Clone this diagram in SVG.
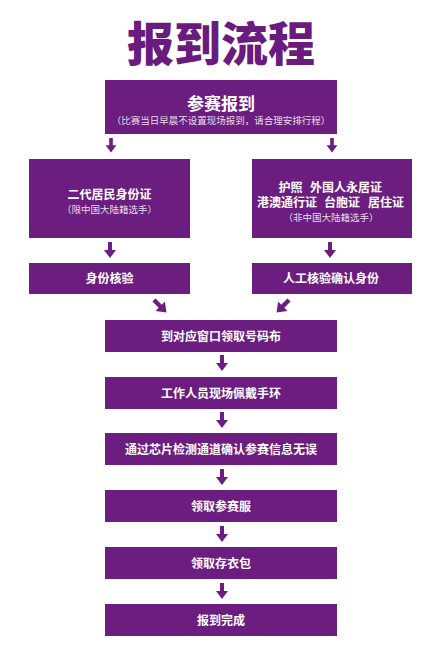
<svg xmlns="http://www.w3.org/2000/svg" width="444" height="651" viewBox="0 0 444 651">
<style>
.box{fill:#6b1e7f}
.t{font-family:"Noto Sans CJK SC","Noto Sans",sans-serif;fill:#ffffff;text-anchor:middle;font-weight:700;font-size:12px}
.big{font-size:17px}
.s{font-family:"Noto Sans CJK SC","Noto Sans",sans-serif;fill:#e6dcea;text-anchor:middle;font-weight:400;font-size:9.5px}
.arr{fill:#6b1e7f}
</style>
<defs>
<path id="a" d="M-2,0 H2 V8 H6 L0,16 L-6,8 H-2 Z"/>
</defs>
<rect width="444" height="651" fill="#ffffff"/>
<text x="221" y="61" font-family="'Noto Sans CJK SC',sans-serif" font-weight="900" font-size="47" fill="#6a1b7e" text-anchor="middle">报到流程</text>

<g id="start">
<rect class="box" x="105" y="80" width="232" height="54"/>
<text class="t big" x="221" y="110">参赛报到</text>
<text class="s" x="221" y="124">（比赛当日早晨不设置现场报到，请合理安排行程）</text>
</g>
<g id="id-card">
<rect class="box" x="29" y="159" width="161" height="79"/>
<text class="t" x="109.5" y="198.5">二代居民身份证</text>
<text class="s" x="109.5" y="212.5">（限中国大陆籍选手）</text>
</g>
<g id="passport">
<rect class="box" x="252" y="159" width="160" height="79"/>
<text class="t" y="191.5"><tspan x="290.5">护照</tspan><tspan x="346">外国人永居证</tspan></text>
<text class="t" y="207"><tspan x="287">港澳通行证</tspan><tspan x="342">台胞证</tspan><tspan x="386">居住证</tspan></text>
<text class="s" x="331" y="220.5">（非中国大陆籍选手）</text>
</g>
<g id="verify-id">
<rect class="box" x="29" y="263" width="161" height="31"/>
<text class="t" x="109.5" y="283">身份核验</text>
</g>
<g id="verify-manual">
<rect class="box" x="252" y="263" width="160" height="31"/>
<text class="t" x="331" y="283">人工核验确认身份</text>
</g>
<g id="bib">
<rect class="box" x="105" y="320" width="232" height="32"/>
<text class="t" x="221" y="340.5">到对应窗口领取号码布</text>
</g>
<g id="wristband">
<rect class="box" x="105" y="377" width="232" height="32"/>
<text class="t" x="221" y="397.5">工作人员现场佩戴手环</text>
</g>
<g id="chip">
<rect class="box" x="105" y="433" width="232" height="32"/>
<text class="t" x="221" y="453.5">通过芯片检测通道确认参赛信息无误</text>
</g>
<g id="shirt">
<rect class="box" x="105" y="490" width="232" height="32"/>
<text class="t" x="221" y="510.5">领取参赛服</text>
</g>
<g id="bag">
<rect class="box" x="105" y="547" width="232" height="32"/>
<text class="t" x="221" y="567.5">领取存衣包</text>
</g>
<g id="done">
<rect class="box" x="105" y="604" width="232" height="32"/>
<text class="t" x="221" y="624.5">报到完成</text>
</g>

<g id="connectors" class="arr">
<use href="#a" transform="translate(111,138) scale(0.9)"/>
<use href="#a" transform="translate(332,138) scale(0.9)"/>
<use href="#a" transform="translate(110,242)"/>
<use href="#a" transform="translate(330,242)"/>
<use href="#a" transform="translate(154,300) rotate(-45) scale(1.1)"/>
<use href="#a" transform="translate(289,300) rotate(45) scale(1.1)"/>
<use href="#a" transform="translate(222,355)"/>
<use href="#a" transform="translate(222,412)"/>
<use href="#a" transform="translate(222,469)"/>
<use href="#a" transform="translate(222,526)"/>
<use href="#a" transform="translate(222,583)"/>
</g>
</svg>
